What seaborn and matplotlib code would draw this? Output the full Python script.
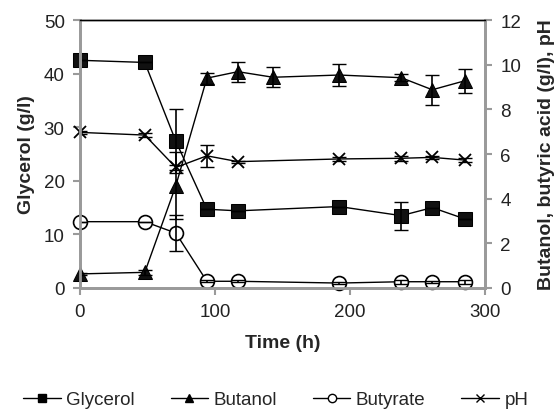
import matplotlib
matplotlib.use("Agg")
import matplotlib.pyplot as plt
import seaborn as sns
from matplotlib.lines import Line2D

# -----------------------------
# Data
# -----------------------------

time_main = [0, 48, 71, 94, 117, 192, 238, 261, 285]
time_butanol = [0, 48, 71, 94, 117, 143, 192, 238, 261, 285]

glycerol = [42.5, 42.1, 27.4, 14.7, 14.4, 15.2, 13.5, 15.0, 12.9]
glycerol_err = [0, 0, 6.0, 0, 0, 0, 2.6, 0, 0]

butanol = [0.63, 0.70, 4.58, 9.40, 9.69, 9.44, 9.54, 9.42, 8.88, 9.28]
butanol_err = [0.05, 0.1, 1.5, 0.25, 0.45, 0.45, 0.5, 0.15, 0.67, 0.55]

butyrate = [2.97, 2.97, 2.46, 0.30, 0.30, 0.22, 0.28, 0.28, 0.28]
butyrate_err = [0, 0, 0.8, 0.05, 0.05, 0.05, 0.08, 0.05, 0.08]

ph = [6.97, 6.85, 5.40, 5.92, 5.66, 5.78, 5.81, 5.85, 5.73]
ph_err = [0.05, 0.08, 0.1, 0.48, 0.05, 0.1, 0.1, 0.08, 0.1]

# -----------------------------
# Style
# -----------------------------

sns.set_style("ticks")
plt.rcParams["font.family"] = ["Liberation Sans", "DejaVu Sans"]

fig = plt.figure(figsize=(5.57, 4.14), dpi=100)
ax = fig.add_axes([0.1436, 0.302, 0.727, 0.647])
ax2 = ax.twinx()

gray = "#9a9a9a"

# -----------------------------
# Series
# -----------------------------

sns.lineplot(x=time_main, y=glycerol, ax=ax, color="black", lw=1, clip_on=False,
             marker="s", markersize=10, markeredgecolor="black", markerfacecolor="#111111")
ax.errorbar(time_main, glycerol, yerr=glycerol_err, fmt="none",
            ecolor="black", elinewidth=1.2, capsize=5)

sns.lineplot(x=time_butanol, y=butanol, ax=ax2, color="black", lw=1, clip_on=False,
             marker="^", markersize=10, markeredgecolor="black", markerfacecolor="#111111")
ax2.errorbar(time_butanol, butanol, yerr=butanol_err, fmt="none",
             ecolor="black", elinewidth=1.2, capsize=5)

sns.lineplot(x=time_main, y=butyrate, ax=ax2, color="black", lw=1, clip_on=False,
             marker="o", markersize=10, markeredgecolor="black",
             markerfacecolor="white", markeredgewidth=1.2)
ax2.errorbar(time_main, butyrate, yerr=butyrate_err, fmt="none",
             ecolor="black", elinewidth=1.2, capsize=5)

sns.lineplot(x=time_main, y=ph, ax=ax2, color="black", lw=1, clip_on=False,
             marker="x", markersize=9, markeredgecolor="black", markeredgewidth=1.3)
ax2.errorbar(time_main, ph, yerr=ph_err, fmt="none",
             ecolor="black", elinewidth=1.2, capsize=5)

# -----------------------------
# Axes
# -----------------------------

ax.set_xlim(0, 300)
ax.set_ylim(0, 50)
ax2.set_ylim(0, 12)
ax.set_xticks([0, 100, 200, 300])
ax.set_yticks([0, 10, 20, 30, 40, 50])
ax2.set_yticks([0, 2, 4, 6, 8, 10, 12])

for a in (ax, ax2):
    for side in ("left", "right", "bottom"):
        a.spines[side].set_color(gray)
        a.spines[side].set_linewidth(2)
    a.spines["top"].set_color("black")
    a.spines["top"].set_linewidth(1)
    a.tick_params(colors=gray, labelcolor="#222222", labelsize=13.5,
                  length=5, width=1.5, direction="out", pad=6)

ax.set_xlabel("Time (h)", fontsize=14, fontweight="bold", labelpad=10)
ax.set_ylabel("Glycerol (g/l)", fontsize=14, fontweight="bold", labelpad=6)
ax2.set_ylabel("Butanol, butyric acid (g/l), pH", fontsize=14, fontweight="bold", labelpad=12)

# -----------------------------
# Legend
# -----------------------------

handles = [
    Line2D([], [], color="black", lw=1, marker="s", markersize=6, markerfacecolor="black"),
    Line2D([], [], color="black", lw=1, marker="^", markersize=6, markerfacecolor="black"),
    Line2D([], [], color="black", lw=1, marker="o", markersize=6, markerfacecolor="white"),
    Line2D([], [], color="black", lw=1, marker="x", markersize=6),
]
labels = ["Glycerol", "Butanol", "Butyrate", "pH"]

fig.legend(handles, labels, loc="center", bbox_to_anchor=(0.495, 0.032),
           ncol=4, frameon=False, fontsize=13.5, handlelength=2.0,
           handletextpad=0.3, columnspacing=1.9)

fig.savefig("out.png", dpi=100)
